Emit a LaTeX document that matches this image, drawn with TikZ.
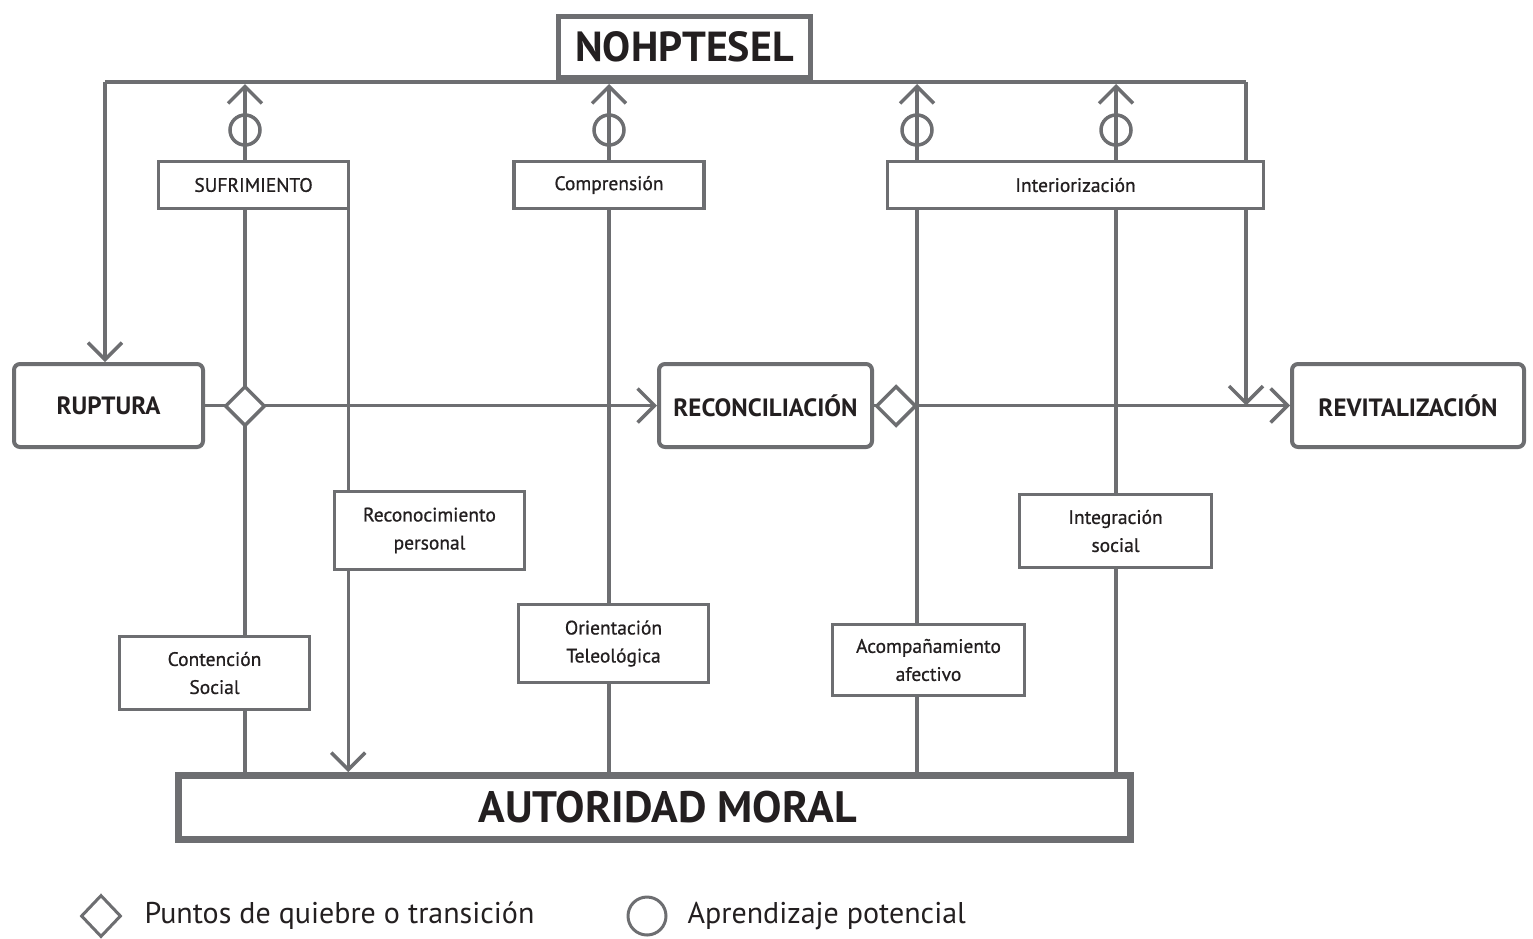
\documentclass[tikz,border=0pt]{standalone}
\usepackage{fontspec}
\setmainfont{PT Sans}
\newfontfamily\conceptfont[FakeBold=0.8]{PT Sans}
\usepackage{tikz}
\usetikzlibrary{shapes, shapes.geometric, arrows.meta, positioning, calc, backgrounds}
\definecolor{linegray}{HTML}{6D6E71}
\definecolor{textdark}{HTML}{231F20}

\begin{document}
\begin{tikzpicture}[x=1pt, y=-1pt,
  >={Straight Barb[length=17pt, width=34pt]},
  link/.style={draw=linegray, line width=3.5pt},
  stage/.style={rectangle, rounded corners=6pt, draw=linegray, line width=4pt, fill=white,
    minimum width=189pt, minimum height=83pt, text=textdark, font=\fontsize{25}{28}\selectfont\bfseries},
  concept/.style={rectangle, draw=linegray, line width=3.5pt, fill=white, align=center,
    minimum width=190pt, text=textdark, font=\fontsize{19.5}{28}\conceptfont},
  junction/.style={diamond, draw=linegray, line width=3.5pt, fill=white, inner sep=0pt, minimum size=40pt},
  learn/.style={circle, draw=linegray, line width=3.5pt, inner sep=0pt, minimum size=30pt}]
  \useasboundingbox (0,0) rectangle (1533,938);

\node[rectangle, draw=linegray, line width=5pt, fill=white, minimum width=252pt, minimum height=61pt, text=textdark, font=\fontsize{42}{46}\selectfont\bfseries] (nohptesel) at (684.5,47) {NOHPTESEL};

\node[stage] (ruptura) at (108.5,405.5) {RUPTURA};
\node[stage, minimum width=213pt, right=452pt of ruptura] (reconciliacion) {RECONCILIACIÓN};
\node[stage, minimum width=232pt, right=416pt of reconciliacion] (revitalizacion) {REVITALIZACIÓN};

\node[junction] (split_a) at (245,406) {};
\node[junction] (split_b) at (896,406) {};

\node[concept, minimum height=47pt] (sufrimiento) at (253.5,185) {SUFRIMIENTO};
\node[concept, minimum height=47pt] (comprension) at (609,185) {Comprensión};
\node[concept, minimum height=47pt, minimum width=376pt] (interiorizacion) at (1075.5,185) {Interiorización};
\node[concept, minimum height=78pt] (reconocimiento) at (429.5,530.5) {Reconocimiento\\personal};
\node[concept, minimum height=73pt] (contencion) at (214.5,673) {Contención\\Social};
\node[concept, minimum height=78pt] (orientacion) at (613.5,643.5) {Orientación\\Teleológica};
\node[concept, minimum height=71pt, minimum width=192pt] (acompanamiento) at (928.5,660) {Acompañamiento\\afectivo};
\node[concept, minimum height=73pt, minimum width=192pt] (integracion) at (1115.5,531) {Integración\\social};

\node[rectangle, draw=linegray, line width=7pt, fill=white, minimum width=952pt, minimum height=64pt, text=textdark, font=\fontsize{44}{48}\selectfont\bfseries] (autoridad) at (654.5,807.5) {\hspace*{26pt}AUTORIDAD MORAL};

% learning points on the way up
\node[learn] (learn_a) at (245,130) {};
\node[learn] (learn_b) at (609,130) {};
\node[learn] (learn_c) at (917,130) {};
\node[learn] (learn_d) at (1116,130) {};

\coordinate (corner_left) at (105,82);
\coordinate (corner_right) at (1246,82);
\coordinate (top_a) at (245,84);
\coordinate (top_b) at (609,84);
\coordinate (top_c) at (917,84);
\coordinate (top_d) at (1116,84);

\begin{scope}[on background layer]
\draw[link] (corner_left) -- (corner_right);
\path[->, every edge/.append style={link}]
	(corner_left) edge (corner_left |- ruptura.north)
	(corner_right) edge (corner_right |- ruptura.east)
	(ruptura) edge (reconciliacion)
	(reconciliacion) edge (revitalizacion)
	(top_a |- autoridad.north) edge (top_a)
	(top_b |- autoridad.north) edge (top_b)
	(top_c |- autoridad.north) edge (top_c)
	(top_d |- autoridad.north) edge (top_d)
	([xshift=-2pt]sufrimiento.south east) edge ([xshift=-2pt]sufrimiento.south east |- autoridad.north)
;
\end{scope}

% legend
\node[diamond, draw=linegray, line width=3pt, inner sep=0pt, minimum width=40pt, minimum height=42pt] (legend_split) at (101,916) {};
\node[anchor=west, text=textdark, font=\fontsize{30}{33}\selectfont] (legend_split_text) at (141,916) {Puntos de quiebre o transición};
\node[circle, draw=linegray, line width=3pt, inner sep=0pt, minimum size=38pt] (legend_learn) at (647,916) {};
\node[anchor=west, text=textdark, font=\fontsize{30}{33}\selectfont] (legend_learn_text) at (684,916) {Aprendizaje potencial};
\end{tikzpicture}
\end{document}
